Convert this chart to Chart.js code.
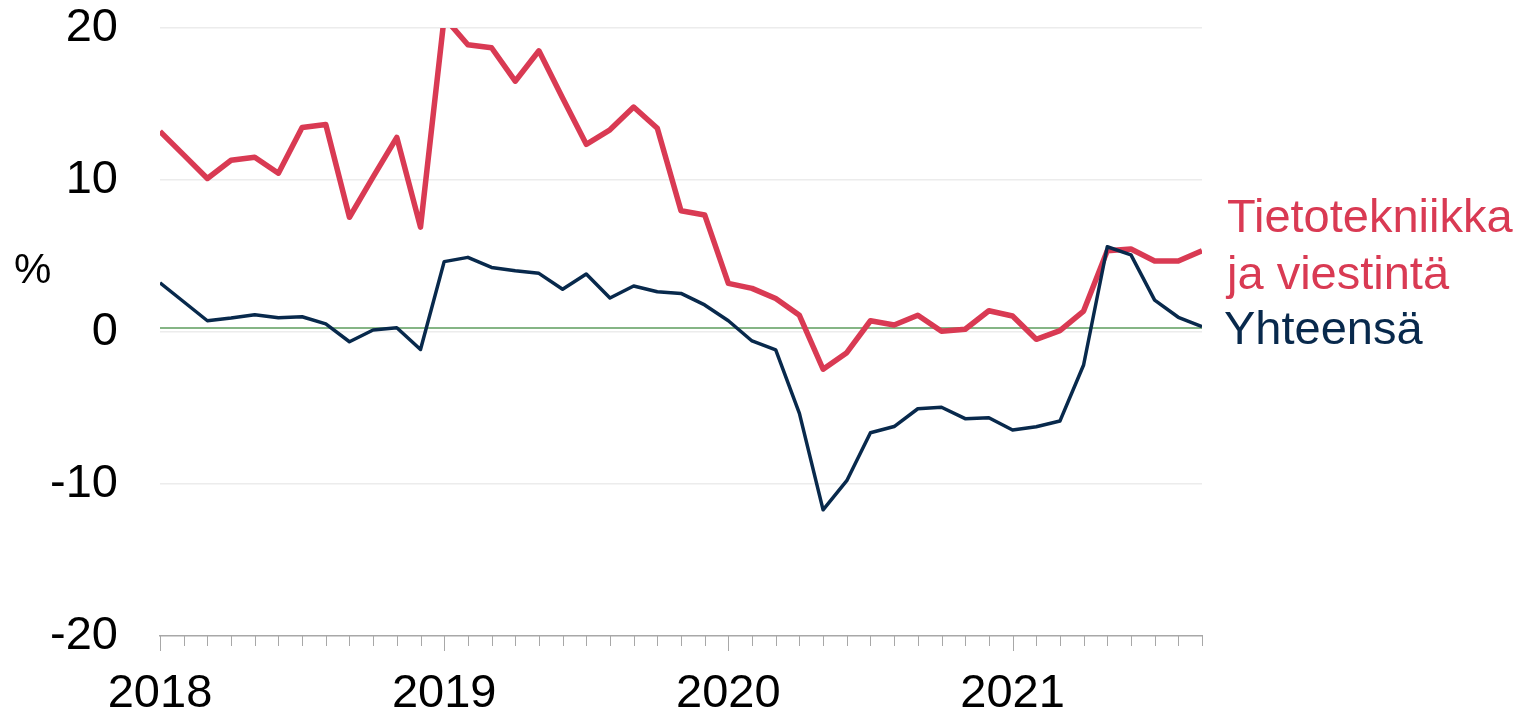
<!DOCTYPE html>
<html lang="fi">
<head>
<meta charset="utf-8">
<title>Tietotekniikka ja viestintä</title>
<script src="https://cdn.jsdelivr.net/npm/chart.js@4/dist/chart.umd.min.js"></script>
<style>
  html, body { margin: 0; padding: 0; background: #fff; }
  #wrap { width: 1522px; height: 715px; position: relative; }
</style>
</head>
<body>
<div id="wrap"><canvas id="chart"></canvas></div>
<script>
// Kuukaudet 2018-01 ... 2021-09
const months = [
  '2018-01','2018-02','2018-03','2018-04','2018-05','2018-06','2018-07','2018-08','2018-09','2018-10','2018-11','2018-12',
  '2019-01','2019-02','2019-03','2019-04','2019-05','2019-06','2019-07','2019-08','2019-09','2019-10','2019-11','2019-12',
  '2020-01','2020-02','2020-03','2020-04','2020-05','2020-06','2020-07','2020-08','2020-09','2020-10','2020-11','2020-12',
  '2021-01','2021-02','2021-03','2021-04','2021-05','2021-06','2021-07','2021-08','2021-09'
];

const tietotekniikka = [
  13.2, 11.65, 10.1, 11.3, 11.5, 10.45, 13.45, 13.65, 7.55, 10.2, 12.8, 6.9,
  20.7, 18.9, 18.7, 16.5, 18.5, 15.4, 12.35, 13.3, 14.8, 13.4, 7.98, 7.7,
  3.2, 2.87, 2.2, 1.1, -2.45, -1.36, 0.74, 0.46, 1.1, 0.05, 0.18, 1.4,
  1.05, -0.48, 0.09, 1.38, 5.35, 5.46, 4.67, 4.67, 5.35
];

const yhteensa = [
  3.24, 1.99, 0.74, 0.92, 1.14, 0.94, 1.0, 0.53, -0.64, 0.13, 0.28, -1.15,
  4.63, 4.91, 4.25, 4.03, 3.86, 2.81, 3.82, 2.24, 3.03, 2.65, 2.54, 1.78,
  0.74, -0.59, -1.18, -5.35, -11.7, -9.78, -6.63, -6.22, -5.05, -4.95, -5.7, -5.64,
  -6.45, -6.23, -5.86, -2.17, 5.61, 5.07, 2.1, 0.97, 0.35
];

const yTicks = [-20, -10, 0, 10, 20];

const RED = '#d93a53';
const NAVY = '#08294c';
const AXIS_GRAY = '#a8a8a8';
const GRID_GRAY = '#ececec';
const ZERO_GREEN = '#5c9c5c';
const FONT = '"Liberation Sans", Arial, sans-serif';

// Kuukausiviivat x-akselin alle, vuoden vaihteessa pidempi
const monthTicks = {
  id: 'monthTicks',
  afterDraw(chart) {
    const { ctx, scales: { x } } = chart;
    ctx.save();
    ctx.strokeStyle = AXIS_GRAY;
    ctx.lineWidth = 1;
    months.forEach((m, i) => {
      const px = Math.round(x.getPixelForValue(i)) + 0.5;
      const len = m.endsWith('-01') ? 15 : 10;
      ctx.beginPath();
      ctx.moveTo(px, x.top);
      ctx.lineTo(px, x.top + len);
      ctx.stroke();
    });
    ctx.restore();
  }
};

// Vihreä nollaviiva
const zeroLine = {
  id: 'zeroLine',
  beforeDatasetsDraw(chart) {
    const { ctx, chartArea, scales: { y } } = chart;
    const py = y.getPixelForValue(0) - 4;
    ctx.save();
    ctx.strokeStyle = ZERO_GREEN;
    ctx.lineWidth = 1.5;
    ctx.beginPath();
    ctx.moveTo(chartArea.left, py);
    ctx.lineTo(chartArea.right, py);
    ctx.stroke();
    ctx.restore();
  }
};

// Sarjojen nimet viivojen oikealle puolelle ja %-merkki
const labels = {
  id: 'labels',
  afterDraw(chart) {
    const { ctx, chartArea } = chart;
    ctx.save();
    ctx.font = `47px ${FONT}`;
    ctx.textBaseline = 'alphabetic';
    ctx.textAlign = 'left';
    const lx = chartArea.right + 25;
    ctx.fillStyle = RED;
    ctx.fillText('Tietotekniikka', lx, 232);
    ctx.fillText('ja viestintä', lx, 289);
    ctx.fillStyle = NAVY;
    ctx.fillText('Yhteensä', lx - 3, 344);
    ctx.fillStyle = '#000';
    ctx.font = `42px ${FONT}`;
    ctx.fillText('%', 14, 283);
    ctx.restore();
  }
};

new Chart(document.getElementById('chart'), {
  type: 'line',
  data: {
    labels: months,
    datasets: [
      {
        label: 'Yhteensä',
        data: yhteensa,
        borderColor: NAVY,
        borderWidth: 3.5,
        pointRadius: 0,
        tension: 0,
        borderJoinStyle: 'round',
        clip: 0
      },
      {
        label: 'Tietotekniikka ja viestintä',
        data: tietotekniikka,
        borderColor: RED,
        borderWidth: 5.5,
        pointRadius: 0,
        tension: 0,
        borderJoinStyle: 'round',
        clip: 0
      }
    ]
  },
  options: {
    responsive: true,
    maintainAspectRatio: false,
    animation: false,
    layout: { padding: { top: 28, right: 320, bottom: 0, left: 0 } },
    plugins: { legend: { display: false }, tooltip: { enabled: false } },
    scales: {
      x: {
        offset: false,
        grid: { display: false, drawTicks: false },
        border: { display: true, color: AXIS_GRAY, width: 1.5 },
        ticks: {
          autoSkip: false,
          maxRotation: 0,
          padding: 30,
          color: '#000',
          font: { size: 47, family: FONT },
          callback: (v, i) => months[i].endsWith('-01') ? months[i].slice(0, 4) : ''
        },
        afterFit: (scale) => { scale.height = 79; scale.paddingLeft = 0; scale.paddingRight = 0; }
      },
      y: {
        min: -20,
        max: 20,
        afterBuildTicks: (scale) => { scale.ticks = yTicks.map(v => ({ value: v })); },
        grid: {
          drawTicks: false,
          color: (c) => c.tick && c.tick.value === -20 ? 'rgba(0,0,0,0)' : GRID_GRAY,
          lineWidth: 1.5
        },
        border: { display: false },
        ticks: {
          padding: 42,
          color: '#000',
          font: { size: 47, family: FONT }
        },
        afterFit: (scale) => { scale.width = 160; scale.paddingTop = 0; scale.paddingBottom = 0; }
      }
    }
  },
  plugins: [zeroLine, monthTicks, labels]
});
</script>
</body>
</html>
